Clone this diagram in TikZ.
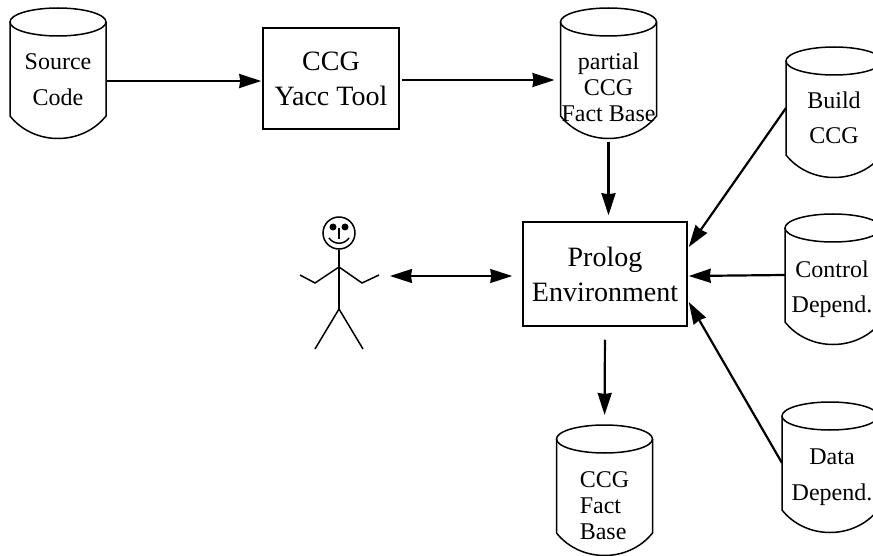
\documentclass[tikz,border=0pt]{standalone}
\usepackage{fontspec}
\setmainfont{Liberation Serif}
\usetikzlibrary{arrows.meta}
\tikzset{
    drumbox/.style={minimum width=96pt,minimum height=116pt,inner sep=0pt,outer sep=0pt},
    drumtext/.style={font=\fontsize{24}{26}\selectfont,align=center,inner sep=0pt},
    drumline/.style={line width=1.5pt},
    toolbox/.style={draw,line width=1.5pt,font=\fontsize{28}{35}\selectfont,align=center,inner sep=0pt},
    flow/.style={line width=2.2pt,-{Stealth[length=22pt,width=14pt,inset=1pt]}},
    talk/.style={line width=1.4pt,{Stealth[length=22pt,width=14pt,inset=1pt]}-{Stealth[length=22pt,width=14pt,inset=1pt]}},
    stick/.style={line width=1.5pt}
}
% drum: [text options]{name}{centre x}{top y}{text}
\newcommand{\drum}[5][]{
    \node[drumbox] (#2) at (#3,#4+72) {};
    \node[drumtext,#1] (#2text) at (#2.center) {#5};
    \draw[drumline] (#2.north) ellipse [x radius=48pt,y radius=14pt];
    \draw[drumline] (#2.north west) -- ++(0,94) .. controls +(24,30) and +(-24,30) .. ++(96,0) -- (#2.north east);
}
\begin{document}
\begin{tikzpicture}[x=1pt,y=-1pt]
    \path[use as bounding box,clip] (0,0) rectangle (873,556);

    % === Upper line ===
    \drum{srccode}{58}{8}{Source\\[10pt]Code}
    \node[toolbox,minimum width=136pt,minimum height=101pt] (yacc) at (331,78.5) {CCG\\Yacc Tool};
    \drum[yshift=-7pt]{partial}{608.5}{8}{partial\\CCG\\Fact Base}

    \draw[flow] ([yshift=-1pt]srccode.east) -- ([yshift=-2.5pt,xshift=-1pt]yacc.west);
    \draw[flow] ([yshift=-1.5pt,xshift=2pt]yacc.east) -- ([xshift=-6pt]partial.west);

    % === Middle line ===
    \node[toolbox,minimum width=164pt,minimum height=104pt] (prolog) at (605,274) {Prolog\\Environment};
    \node[circle,draw,line width=1.5pt,minimum size=32pt,inner sep=0pt] (head) at (339,233) {};
    \coordinate (person) at (390,276);

    \fill (333,227) circle (3.5pt);
    \fill (345,227) circle (3.5pt);
    \draw[stick] (339,228) -- (339,239);
    \draw[stick] (329,238) .. controls (334,245) and (344,245) .. (349,238);
    \draw[stick] (head.south) -- (339,309);
    \draw[stick] (300,275) -- (315,283) -- (339,267) -- (362,283) -- (379,275);
    \draw[stick] (315,349) -- (339,309) -- (363,349);

    \draw[talk] (person) -- ([yshift=-2pt,xshift=-10pt]prolog.west);
    \draw[flow,shorten <=4pt,shorten >=6pt] (partial.south) -- (partial.south |- prolog.north);

    % === Right column ===
    \drum[yshift=1pt]{build}{834}{47}{Build\\[9pt]CCG}
    \drum[yshift=-3pt,xshift=-1pt]{control}{833}{214}{Control\\[9pt]Depend.}
    \drum[yshift=-3pt,xshift=2pt]{datadep}{830}{402}{Data\\[10pt]Depend.}

    \draw[flow] ([yshift=11pt]build.west) -- ([yshift=27pt,xshift=1pt]prolog.east);
    \draw[flow] ([yshift=11pt]control.west) -- ([yshift=-2pt,xshift=1pt]prolog.east);
    \draw[flow] ([yshift=11pt]datadep.west) -- ([yshift=-28pt,xshift=1pt]prolog.east);

    % === Lower line ===
    \drum[yshift=-11pt]{factbase}{604.5}{425}{\begin{tabular}{@{}l@{}}CCG\\Fact\\Base\end{tabular}}

    \draw[flow,shorten <=13pt,shorten >=24pt] (prolog.south) -- (factbase.north);
\end{tikzpicture}
\end{document}
